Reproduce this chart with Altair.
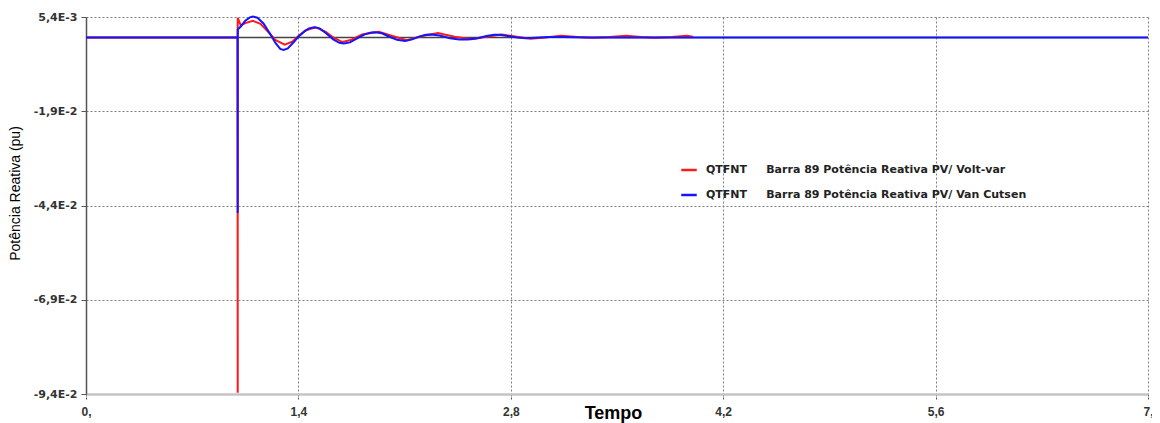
import altair as alt
import pandas as pd

# ---- data ----
NAME_RED = "QTFNT\u00a0\u00a0\u00a0\u00a0\u00a0Barra 89 Potência Reativa PV/ Volt-var"
NAME_BLUE = "QTFNT\u00a0\u00a0\u00a0\u00a0\u00a0Barra 89 Potência Reativa PV/ Van Cutsen"

t_red = [0.0, 0.999, 1.0, 1.0, 1.02, 1.05, 1.10, 1.15, 1.20, 1.25, 1.31, 1.36, 1.40,
         1.45, 1.515, 1.58, 1.63, 1.69, 1.75, 1.82, 1.93, 2.02, 2.115, 2.21, 2.32,
         2.43, 2.54, 2.64, 2.74, 2.84, 2.93, 3.03, 3.13, 3.24, 3.34, 3.45, 3.56,
         3.66, 3.75, 3.86, 3.96, 4.0]
q_red = [0.0, 0.0, -0.0937, 0.0052, 0.0032, 0.0038, 0.0044, 0.0036, 0.0015, -0.0007,
         -0.0019, -0.0011, 0.0004, 0.0019, 0.0027, 0.0015, 0.0000, -0.0012, -0.0006,
         0.0008, 0.0015, 0.0004, -0.0007, 0.0003, 0.0012, 0.0002, -0.00045, 0.0002,
         0.0008, 0.0002, -0.00036, 0.0, 0.00045, 0.0001, -0.0001, 0.0001, 0.00045,
         0.0001, -0.0001, 0.0001, 0.00045, 0.0002]

t_blue = [0.0, 0.999, 1.0, 1.0, 1.02, 1.05, 1.08, 1.10, 1.13, 1.17, 1.21, 1.25, 1.28,
          1.303, 1.33, 1.37, 1.40, 1.44, 1.47, 1.504, 1.54, 1.58, 1.63, 1.67, 1.70,
          1.74, 1.79, 1.84, 1.88, 1.907, 1.95, 2.00, 2.05, 2.103, 2.15, 2.20, 2.24,
          2.276, 2.33, 2.40, 2.46, 2.518, 2.58, 2.64, 2.69, 2.726, 2.78, 2.84, 2.90,
          2.96, 3.05, 3.15, 3.3, 7.0]
q_blue = [0.0, 0.0, -0.0463, 0.0021, 0.0029, 0.0044, 0.0053, 0.0055, 0.0052, 0.0037,
          0.0012, -0.0015, -0.0030, -0.0033, -0.0029, -0.0012, 0.0002, 0.0016, 0.0024,
          0.0027, 0.0024, 0.0012, -0.0005, -0.0014, -0.0016, -0.0013, -0.0002, 0.0009,
          0.0013, 0.00135, 0.0011, 0.0002, -0.0006, -0.0009, -0.0005, 0.0003, 0.0007,
          0.0008, 0.0005, -0.0002, -0.0005, -0.00054, -0.0002, 0.0004, 0.0007, 0.00072,
          0.0004, 0.0, -0.0002, -0.0001, 0.0001, 0.0001, 0.0, 0.0]

zero_line = [0.0]

x_ticks = [0.0, 1.4, 2.8, 4.2, 5.6, 7.0]
x_labels = ["0,", "1,4", "2,8", "4,2", "5,6", "7,"]
y_ticks = [0.0054, -0.01945, -0.0443, -0.06915, -0.094]
y_labels = ["5,4E-3", "-1,9E-2", "-4,4E-2", "-6,9E-2", "-9,4E-2"]

series_names = [NAME_RED, NAME_BLUE]
series_colors = ["#ff1a1a", "#1414ff"]


def label_expr(vals, labs):
    expr = "''"
    for v, l in reversed(list(zip(vals, labs))):
        expr = f"abs(datum.value - ({v})) < 1e-9 ? '{l}' : ({expr})"
    return expr


rows = []
for i, (t, q) in enumerate(zip(t_red, q_red)):
    rows.append({"t": t, "q": q, "serie": NAME_RED, "i": i})
for i, (t, q) in enumerate(zip(t_blue, q_blue)):
    rows.append({"t": t, "q": q, "serie": NAME_BLUE, "i": i})
df = pd.DataFrame(rows)

x_scale = alt.Scale(domain=[0, 7], nice=False, zero=False)
y_scale = alt.Scale(domain=[-0.094, 0.0054], nice=False, zero=False)
color_scale = alt.Scale(domain=series_names, range=series_colors)

x_axis = alt.Axis(
    values=x_ticks, labelExpr=label_expr(x_ticks, x_labels), title="Tempo",
    labelFont="Liberation Sans", labelFontWeight="bold", labelFontSize=12,
    labelColor="#333333", labelFlush=False, labelPadding=7, tickSize=5,
    tickColor="#555555", tickDash=[2, 1], domainColor="#c4c4c4", domainWidth=2.5,
    grid=True, gridColor="#808080", gridDash=[2, 2], gridWidth=1,
    titleFont="Liberation Sans", titleFontWeight="bold", titleFontSize=18,
    titleColor="#000000", titleX=527, titleY=24, titleAlign="center",
    titleBaseline="alphabetic",
)
y_axis = alt.Axis(
    values=y_ticks, labelExpr=label_expr(y_ticks, y_labels),
    title="Potência Reativa (pu)",
    labelFont="DejaVu Sans", labelFontWeight="bold", labelFontSize=11,
    labelColor="#333333", labelFlush=False, labelPadding=4, tickSize=5,
    tickColor="#555555", domainColor="#555555", domainWidth=1.5,
    grid=True, gridColor="#808080", gridDash=[2, 2], gridWidth=1,
    titleFont="Liberation Sans", titleFontWeight="normal", titleFontSize=14,
    titleColor="#000000", titleX=-71, titleY=176, titleAngle=270,
    titleAlign="center", titleBaseline="middle",
)

base = alt.Chart(df)

zero = alt.Chart(pd.DataFrame({"q": zero_line})).mark_rule(
    color="#444444", strokeWidth=1.5
).encode(y=alt.Y("q:Q", scale=y_scale, axis=y_axis))

legend = alt.Legend(
    title=None, orient="none", legendX=594, legendY=144, symbolType="stroke",
    symbolSize=240, symbolStrokeWidth=2.5, labelFont="DejaVu Sans",
    labelFontWeight="bold", labelFontSize=11, labelColor="#222222",
    labelLimit=500, labelOffset=8, rowPadding=11, padding=0,
)

red = base.transform_filter(alt.datum.serie == NAME_RED).mark_line(
    strokeWidth=2
).encode(
    x=alt.X("t:Q", scale=x_scale, axis=x_axis),
    y=alt.Y("q:Q", scale=y_scale, axis=y_axis),
    color=alt.Color("serie:N", scale=color_scale, legend=legend),
    order=alt.Order("i:Q"),
)
blue = base.transform_filter(alt.datum.serie == NAME_BLUE).mark_line(
    strokeWidth=2
).encode(
    x=alt.X("t:Q", scale=x_scale, axis=x_axis),
    y=alt.Y("q:Q", scale=y_scale, axis=y_axis),
    color=alt.Color("serie:N", scale=color_scale, legend=legend),
    order=alt.Order("i:Q"),
)

chart = alt.layer(zero, red, blue).properties(
    width=1062, height=377,
    autosize=alt.AutoSizeParams(type="none"),
    padding={"left": 78, "top": 9, "right": 4, "bottom": 29},
    background="white",
).configure_view(stroke=None)

chart.save("out.html", embed_options={"renderer": "svg", "actions": False})
